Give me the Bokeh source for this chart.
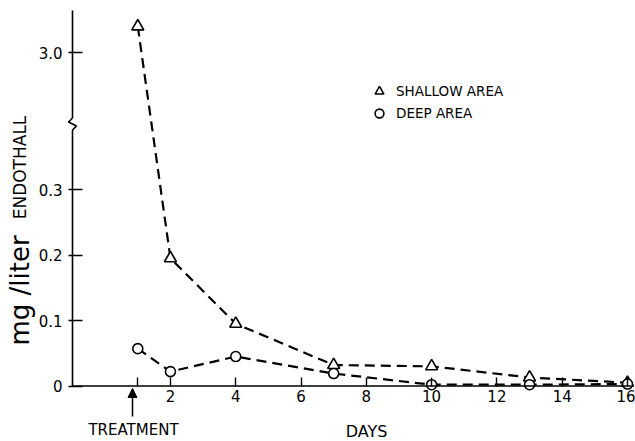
from bokeh.plotting import figure
from bokeh.models import (FixedTicker, Label, Arrow, NormalHead, Legend, LegendItem,
                          Range1d, ColumnDataSource)
from bokeh.embed import file_html
from bokeh.resources import INLINE

# ---- data ----
days = [1, 2, 4, 7, 10, 13, 16]
shallow_area = [3.40, 0.195, 0.095, 0.032, 0.030, 0.013, 0.005]
deep_area = [0.057, 0.022, 0.045, 0.019, 0.002, 0.002, 0.003]
x_ticks = [1, 2, 4, 6, 8, 10, 12, 14, 16]
x_tick_labels = ["", "2", "4", "6", "8", "10", "12", "14", "16"]
y_ticks = [0.0, 0.1, 0.2, 0.3, 3.0]
y_tick_labels = ["0", "0.1", "0.2", "0.3", "3.0"]

# broken y axis: lower part linear, upper part compressed
BREAK_AT = 0.40
UPPER_START = 1.91
UPPER_SCALE = 0.1


def to_axis(v):
    return v if v <= BREAK_AT else BREAK_AT + (v - UPPER_START) * UPPER_SCALE


FONT = "DejaVu Sans"
X_AXIS_START, X_AXIS_END = -1.0, 16.1
Y_AXIS_TOP = 0.5733

p = figure(width=635, height=441, output_backend="svg", toolbar_location=None,
           x_range=Range1d(-3.2054, 16.245), y_range=Range1d(-0.08473, 0.58855),
           min_border_left=0, min_border_right=0, min_border_top=0, min_border_bottom=0)
p.outline_line_color = None
p.xgrid.visible = False
p.ygrid.visible = False
p.background_fill_color = "white"
p.border_fill_color = "white"

src_s = ColumnDataSource(dict(x=days, y=[to_axis(v) for v in shallow_area]))
src_d = ColumnDataSource(dict(x=days, y=[to_axis(v) for v in deep_area]))

p.line("x", "y", source=src_s, line_color="black", line_width=2.2, line_dash="10 6")
p.line("x", "y", source=src_d, line_color="black", line_width=2.2, line_dash="10 6")
r_s = p.scatter("x", "y", source=src_s, marker="triangle", size=12,
                fill_color="white", line_color="black", line_width=1.6)
r_d = p.scatter("x", "y", source=src_d, marker="circle", size=10,
                fill_color="white", line_color="black", line_width=1.6)

# x axis sitting at y = 0
xa = p.xaxis[0]
xa.fixed_location = 0
xa.ticker = FixedTicker(ticks=x_ticks)
xa.major_label_overrides = {t: l for t, l in zip(x_ticks, x_tick_labels)}
xa.major_tick_in = 9
xa.major_tick_out = 0
xa.minor_tick_line_color = None
xa.axis_line_color = None
xa.major_tick_line_width = 1.4
xa.major_label_text_font = FONT
xa.major_label_text_font_size = "15px"
xa.major_label_text_color = "black"
xa.major_label_standoff = 4

# y axis sitting at x = -1
ya = p.yaxis[0]
ya.fixed_location = X_AXIS_START
y_pos = [to_axis(v) for v in y_ticks]
ya.ticker = FixedTicker(ticks=y_pos)
ya.major_label_overrides = {t: l for t, l in zip(y_pos, y_tick_labels)}
ya.major_tick_in = 10
ya.major_tick_out = 4
ya.minor_tick_line_color = None
ya.axis_line_color = None
ya.major_tick_line_width = 1.4
ya.major_label_text_font = FONT
ya.major_label_text_font_size = "15px"
ya.major_label_text_color = "black"
ya.major_label_standoff = 6

# axis lines, with the break mark on the y axis
dxp = 1 / 32.647  # one pixel in days
dyp = 1 / 655.0   # one pixel in axis units
p.segment(x0=[X_AXIS_START, X_AXIS_START, X_AXIS_START],
          y0=[0, 0, BREAK_AT + 6 * dyp],
          x1=[X_AXIS_END, X_AXIS_START, X_AXIS_START],
          y1=[0, BREAK_AT - 6 * dyp, Y_AXIS_TOP],
          line_color="black", line_width=1.6)
p.line(x=[X_AXIS_START, X_AXIS_START - 4 * dxp, X_AXIS_START + 4 * dxp, X_AXIS_START],
       y=[BREAK_AT + 6 * dyp, BREAK_AT + 2 * dyp, BREAK_AT - 2 * dyp, BREAK_AT - 6 * dyp],
       line_color="black", line_width=1.6)

# legend
legend = Legend(items=[LegendItem(label="SHALLOW AREA", renderers=[r_s]),
                       LegendItem(label="DEEP AREA", renderers=[r_d])],
                location=(368, 317), orientation="vertical",
                glyph_width=22, glyph_height=22, label_height=22, spacing=0,
                padding=0, margin=0, label_standoff=6,
                label_text_font=FONT, label_text_font_size="13.5px",
                label_text_color="black",
                border_line_color=None, background_fill_alpha=0)
p.add_layout(legend)

# y axis title (two sizes)
p.add_layout(Label(x=-2.593, y=0.1458, text="mg /liter", angle=1.5708,
                   text_align="center", text_baseline="middle",
                   text_font=FONT, text_font_size="26px", text_color="black"))
p.add_layout(Label(x=-2.593, y=0.3336, text="ENDOTHALL", angle=1.5708,
                   text_align="center", text_baseline="middle",
                   text_font=FONT, text_font_size="17px", text_color="black"))

# x title and treatment marker
p.add_layout(Label(x=8.005, y=-0.0695, text="DAYS", text_align="center",
                   text_baseline="middle", text_font=FONT, text_font_size="16px",
                   text_color="black"))
p.add_layout(Label(x=0.868, y=-0.0679, text="TREATMENT", text_align="center",
                   text_baseline="middle", text_font=FONT, text_font_size="15px",
                   text_color="black"))
p.add_layout(Arrow(end=NormalHead(size=9, fill_color="black", line_color="black"),
                   x_start=0.838, y_start=-0.0466, x_end=0.838, y_end=-0.0038,
                   line_color="black", line_width=1.5))

open("out.html", "w").write(file_html(p, INLINE))
